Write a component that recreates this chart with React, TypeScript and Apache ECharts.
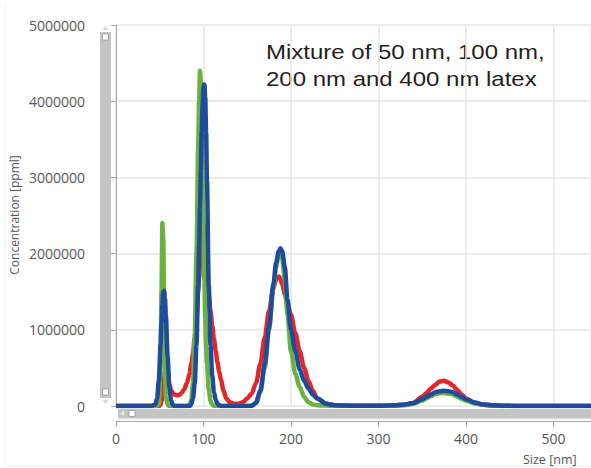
import React, { useEffect, useRef } from "react";
import * as echarts from "echarts";

// Particle size (nm)
const sizes = [
  0, 40, 45, 47, 49, 51, 52, 53, 54, 55,
  56, 57, 59, 61, 63, 65, 67, 69, 71, 73,
  75, 78, 81, 84, 86, 88, 90, 92, 94, 95,
  96, 97, 98, 99, 100, 101, 102, 103, 104, 106,
  108, 110, 112, 114, 116, 118, 120, 123, 126, 130,
  135, 140, 145, 150, 155, 160, 165, 170, 175, 180,
  183, 186, 188, 190, 193, 196, 200, 205, 210, 215,
  220, 225, 230, 240, 250, 260, 280, 300, 320, 330,
  340, 350, 355, 360, 365, 370, 375, 380, 385, 390,
  395, 400, 410, 420, 430, 445, 460, 480, 500, 545,
];

// Concentration, millions of particles per ml
const greenConc = [
  0, 0, 0, 0, 0.03, 0.6, 1.5, 2.4, 2.2, 1.2,
  0.45, 0.12, 0.01, 0, 0, 0, 0, 0, 0, 0,
  0, 0, 0, 0.01, 0.08, 0.3, 0.9, 2.0, 3.4, 4.0,
  4.4, 4.25, 3.7, 3.0, 2.3, 1.65, 1.15, 0.8, 0.55, 0.22,
  0.07, 0.02, 0, 0, 0, 0, 0, 0, 0, 0,
  0, 0, 0, 0, 0.01, 0.04, 0.18, 0.5, 1.0, 1.55,
  1.82, 1.98, 2.0, 1.93, 1.65, 1.2, 0.72, 0.42, 0.25, 0.12,
  0.05, 0.02, 0.01, 0.005, 0, 0, 0, 0, 0.005, 0.01,
  0.03, 0.07, 0.1, 0.13, 0.155, 0.168, 0.17, 0.165, 0.15, 0.125,
  0.095, 0.07, 0.035, 0.018, 0.01, 0.004, 0, 0, 0, 0,
];

const redConc = [
  0, 0, 0, 0, 0, 0.02, 0.06, 0.12, 0.22, 0.35,
  0.46, 0.49, 0.38, 0.28, 0.21, 0.17, 0.15, 0.14, 0.14, 0.15,
  0.17, 0.22, 0.3, 0.42, 0.55, 0.68, 0.9, 1.18, 1.5, 1.68,
  1.85, 2.05, 2.25, 2.38, 2.38, 2.25, 2.0, 1.82, 1.68, 1.45,
  1.25, 1.05, 0.88, 0.72, 0.57, 0.45, 0.34, 0.2, 0.1, 0.05,
  0.03, 0.03, 0.05, 0.1, 0.16, 0.3, 0.55, 0.9, 1.25, 1.55,
  1.66, 1.7, 1.67, 1.6, 1.47, 1.33, 1.2, 0.95, 0.72, 0.5,
  0.33, 0.2, 0.1, 0.03, 0.01, 0.005, 0.003, 0.003, 0.005, 0.015,
  0.04, 0.12, 0.17, 0.23, 0.28, 0.32, 0.33, 0.31, 0.27, 0.21,
  0.15, 0.1, 0.04, 0.015, 0.005, 0, 0, 0, 0, 0,
];

const blueConc = [
  0, 0, 0.02, 0.1, 0.34, 0.81, 1.09, 1.33, 1.49, 1.51,
  1.41, 1.19, 0.65, 0.25, 0.07, 0.015, 0, 0, 0, 0,
  0, 0, 0, 0, 0.02, 0.1, 0.3, 0.8, 1.6, 2.1,
  2.6, 3.1, 3.6, 3.95, 4.18, 4.22, 4.05, 3.6, 2.95, 1.6,
  0.8, 0.4, 0.18, 0.08, 0.03, 0.01, 0, 0, 0, 0,
  0, 0, 0, 0, 0, 0.04, 0.2, 0.55, 1.05, 1.6,
  1.88, 2.03, 2.07, 2.03, 1.82, 1.4, 1.0, 0.72, 0.48, 0.33,
  0.23, 0.15, 0.1, 0.03, 0.01, 0.005, 0.003, 0.003, 0.01, 0.02,
  0.04, 0.09, 0.12, 0.15, 0.18, 0.195, 0.2, 0.195, 0.18, 0.15,
  0.12, 0.09, 0.045, 0.02, 0.01, 0.003, 0, 0, 0, 0,
];

const MILLION = 1000000;
const annotationLines = ["Mixture of 50 nm, 100 nm,", "200 nm and 400 nm latex"];
const xAxisTitle = "Size [nm]";
const yAxisTitle = "Concentration [ppml]";

export default function App() {
  const ref = useRef<HTMLDivElement>(null);

  useEffect(() => {
    const chart = echarts.init(ref.current as HTMLDivElement, null, { renderer: "svg" });

    const mk = (name: string, vals: number[], color: string, z: number) => ({
      name,
      type: "line",
      data: sizes.map((s, i) => [s, vals[i] * MILLION]),
      showSymbol: false,
      smooth: 0.3,
      smoothMonotone: "x",
      z,
      lineStyle: { color, width: 4.5 },
      itemStyle: { color },
    });

    const axisGray = "#a6a6a6";
    const labelGray = "#555555";
    const scrollGray = "#c4c4c4";

    chart.setOption({
      animation: false,
      backgroundColor: "#ffffff",
      grid: { left: 116, right: 0, top: 25, bottom: 62, containLabel: false },
      xAxis: {
        type: "value",
        min: 0,
        max: 543,
        interval: 100,
        offset: 15,
        axisLine: { show: true, onZero: false, lineStyle: { color: axisGray, width: 1 } },
        axisTick: { show: true, length: 6, lineStyle: { color: axisGray } },
        axisLabel: {
          color: labelGray,
          fontSize: 14,
          fontFamily: "Open Sans",
          margin: 10,
          showMaxLabel: false,
          formatter: (v: number) => String(v),
        },
        splitLine: { show: true, lineStyle: { color: "#e6e6e6", width: 1.5 } },
      },
      yAxis: {
        type: "value",
        min: 0,
        max: 5 * MILLION,
        interval: MILLION,
        offset: 19,
        axisLine: { show: true, lineStyle: { color: axisGray, width: 1 } },
        axisTick: { show: true, length: 5, lineStyle: { color: axisGray } },
        axisLabel: {
          color: labelGray,
          fontSize: 14,
          fontFamily: "Open Sans",
          margin: 12,
          formatter: (v: number) => String(v),
        },
        splitLine: { show: true, lineStyle: { color: "#e6e6e6", width: 1.5 } },
      },
      series: [
        mk("red", redConc, "#e2262a", 2),
        mk("green", greenConc, "#6ab23e", 3),
        mk("blue", blueConc, "#1f4b9e", 4),
      ],
      graphic: [
        // faint frame
        { type: "line", shape: { x1: 5, y1: 5, x2: 5, y2: 466 }, style: { stroke: "#ececec", lineWidth: 1 } },
        { type: "line", shape: { x1: 5, y1: 466, x2: 591, y2: 466 }, style: { stroke: "#ececec", lineWidth: 1 } },
        // vertical scrollbar
        { type: "rect", shape: { x: 100, y: 32, width: 11, height: 366 }, style: { fill: scrollGray } },
        { type: "polygon", shape: { points: [[102.5, 30], [108.5, 30], [105.5, 26]] }, style: { fill: "#d6d6d6" } },
        { type: "polygon", shape: { points: [[102.5, 400], [108.5, 400], [105.5, 404]] }, style: { fill: "#d6d6d6" } },
        { type: "rect", shape: { x: 102.5, y: 34, width: 6, height: 6 }, style: { fill: "#ffffff", stroke: "#9a9a9a", lineWidth: 0.8 } },
        { type: "rect", shape: { x: 102.5, y: 389, width: 6, height: 6 }, style: { fill: "#ffffff", stroke: "#9a9a9a", lineWidth: 0.8 } },
        // horizontal scrollbar
        { type: "rect", shape: { x: 118, y: 409, width: 473, height: 9 }, style: { fill: scrollGray } },
        { type: "rect", shape: { x: 118, y: 418, width: 473, height: 1.5 }, style: { fill: "#e2e2e2" } },
        { type: "polygon", shape: { points: [[124, 410.5], [124, 416.5], [120, 413.5]] }, style: { fill: "#e4e4e4" } },
        { type: "rect", shape: { x: 129, y: 410.5, width: 6, height: 6 }, style: { fill: "#ffffff", stroke: "#9a9a9a", lineWidth: 0.8 } },
        // axis titles
        {
          type: "text",
          x: 523,
          y: 459,
          style: { text: xAxisTitle, fill: labelGray, font: "12.5px 'Open Sans'", textVerticalAlign: "middle" },
        },
        {
          type: "text",
          x: 14,
          y: 215,
          rotation: Math.PI / 2,
          style: {
            text: yAxisTitle,
            fill: labelGray,
            font: "12px 'Open Sans'",
            textAlign: "center",
            textVerticalAlign: "middle",
          },
        },
        // annotation
        {
          type: "text",
          x: 266,
          y: 52,
          scaleX: 1.2,
          style: { text: annotationLines[0], fill: "#231f20", font: "20px 'Liberation Sans'", textVerticalAlign: "middle" },
        },
        {
          type: "text",
          x: 266,
          y: 79,
          scaleX: 1.2,
          style: { text: annotationLines[1], fill: "#231f20", font: "20px 'Liberation Sans'", textVerticalAlign: "middle" },
        },
      ],
    });

    return () => chart.dispose();
  }, []);

  return (
    <div
      ref={ref}
      style={{ position: "fixed", left: 0, top: 0, width: 591, height: 468, background: "#ffffff" }}
    />
  );
}
